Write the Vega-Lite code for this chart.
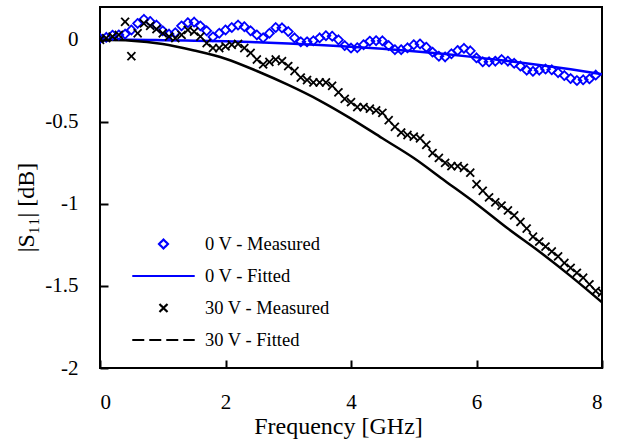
{
  "$schema": "https://vega.github.io/schema/vega-lite/v6.json",
  "width": 502,
  "height": 361,
  "autosize": "none",
  "padding": {"left": 100, "top": 7, "right": 23, "bottom": 76},
  "background": "white",
  "config": {
    "view": {"stroke": "black", "strokeWidth": 2},
    "font": "Liberation Serif",
    "axis": {
      "labelFont": "Liberation Serif", "labelFontSize": 21, "labelColor": "black",
      "titleFont": "Liberation Serif", "titleFontSize": 24, "titleFontWeight": "normal", "titleColor": "black"
    }
  },
  "data": {"values": [
    {"f":0.0,"v":0.008,"s":"0 V - Measured"},{"f":0.1,"v":0.015,"s":"0 V - Measured"},{"f":0.2,"v":0.028,"s":"0 V - Measured"},{"f":0.3,"v":0.03,"s":"0 V - Measured"},{"f":0.4,"v":0.035,"s":"0 V - Measured"},{"f":0.5,"v":0.06,"s":"0 V - Measured"},{"f":0.6,"v":0.1,"s":"0 V - Measured"},{"f":0.7,"v":0.125,"s":"0 V - Measured"},{"f":0.8,"v":0.112,"s":"0 V - Measured"},{"f":0.9,"v":0.09,"s":"0 V - Measured"},
    {"f":1.0,"v":0.055,"s":"0 V - Measured"},{"f":1.1,"v":0.035,"s":"0 V - Measured"},{"f":1.2,"v":0.043,"s":"0 V - Measured"},{"f":1.3,"v":0.085,"s":"0 V - Measured"},{"f":1.4,"v":0.104,"s":"0 V - Measured"},{"f":1.5,"v":0.108,"s":"0 V - Measured"},{"f":1.6,"v":0.085,"s":"0 V - Measured"},{"f":1.7,"v":0.055,"s":"0 V - Measured"},{"f":1.8,"v":0.018,"s":"0 V - Measured"},{"f":1.9,"v":0.04,"s":"0 V - Measured"},
    {"f":2.0,"v":0.06,"s":"0 V - Measured"},{"f":2.1,"v":0.075,"s":"0 V - Measured"},{"f":2.2,"v":0.09,"s":"0 V - Measured"},{"f":2.3,"v":0.08,"s":"0 V - Measured"},{"f":2.4,"v":0.055,"s":"0 V - Measured"},{"f":2.5,"v":0.03,"s":"0 V - Measured"},{"f":2.6,"v":0.012,"s":"0 V - Measured"},{"f":2.7,"v":0.04,"s":"0 V - Measured"},{"f":2.8,"v":0.075,"s":"0 V - Measured"},{"f":2.9,"v":0.073,"s":"0 V - Measured"},
    {"f":3.0,"v":0.05,"s":"0 V - Measured"},{"f":3.1,"v":0.012,"s":"0 V - Measured"},{"f":3.2,"v":-0.012,"s":"0 V - Measured"},{"f":3.3,"v":-0.012,"s":"0 V - Measured"},{"f":3.4,"v":-0.006,"s":"0 V - Measured"},{"f":3.5,"v":0.012,"s":"0 V - Measured"},{"f":3.6,"v":0.025,"s":"0 V - Measured"},{"f":3.7,"v":0.022,"s":"0 V - Measured"},{"f":3.8,"v":0.0,"s":"0 V - Measured"},{"f":3.9,"v":-0.035,"s":"0 V - Measured"},
    {"f":4.0,"v":-0.05,"s":"0 V - Measured"},{"f":4.1,"v":-0.048,"s":"0 V - Measured"},{"f":4.2,"v":-0.03,"s":"0 V - Measured"},{"f":4.3,"v":-0.008,"s":"0 V - Measured"},{"f":4.4,"v":-0.005,"s":"0 V - Measured"},{"f":4.5,"v":-0.006,"s":"0 V - Measured"},{"f":4.6,"v":-0.035,"s":"0 V - Measured"},{"f":4.7,"v":-0.06,"s":"0 V - Measured"},{"f":4.8,"v":-0.06,"s":"0 V - Measured"},{"f":4.9,"v":-0.049,"s":"0 V - Measured"},
    {"f":5.0,"v":-0.03,"s":"0 V - Measured"},{"f":5.1,"v":-0.025,"s":"0 V - Measured"},{"f":5.2,"v":-0.045,"s":"0 V - Measured"},{"f":5.3,"v":-0.075,"s":"0 V - Measured"},{"f":5.4,"v":-0.1,"s":"0 V - Measured"},{"f":5.5,"v":-0.104,"s":"0 V - Measured"},{"f":5.6,"v":-0.085,"s":"0 V - Measured"},{"f":5.7,"v":-0.065,"s":"0 V - Measured"},{"f":5.8,"v":-0.052,"s":"0 V - Measured"},{"f":5.9,"v":-0.067,"s":"0 V - Measured"},
    {"f":6.0,"v":-0.11,"s":"0 V - Measured"},{"f":6.1,"v":-0.134,"s":"0 V - Measured"},{"f":6.2,"v":-0.134,"s":"0 V - Measured"},{"f":6.3,"v":-0.13,"s":"0 V - Measured"},{"f":6.4,"v":-0.12,"s":"0 V - Measured"},{"f":6.5,"v":-0.13,"s":"0 V - Measured"},{"f":6.6,"v":-0.143,"s":"0 V - Measured"},{"f":6.7,"v":-0.16,"s":"0 V - Measured"},{"f":6.8,"v":-0.185,"s":"0 V - Measured"},{"f":6.9,"v":-0.192,"s":"0 V - Measured"},
    {"f":7.0,"v":-0.185,"s":"0 V - Measured"},{"f":7.1,"v":-0.178,"s":"0 V - Measured"},{"f":7.2,"v":-0.183,"s":"0 V - Measured"},{"f":7.3,"v":-0.2,"s":"0 V - Measured"},{"f":7.4,"v":-0.218,"s":"0 V - Measured"},{"f":7.5,"v":-0.236,"s":"0 V - Measured"},{"f":7.6,"v":-0.248,"s":"0 V - Measured"},{"f":7.7,"v":-0.244,"s":"0 V - Measured"},{"f":7.8,"v":-0.238,"s":"0 V - Measured"},{"f":7.9,"v":-0.215,"s":"0 V - Measured"},

    {"f":0.0,"v":0.0,"s":"0 V - Fitted"},{"f":0.5,"v":0.0,"s":"0 V - Fitted"},{"f":1.0,"v":-0.002,"s":"0 V - Fitted"},{"f":1.5,"v":-0.005,"s":"0 V - Fitted"},{"f":2.0,"v":-0.009,"s":"0 V - Fitted"},{"f":2.5,"v":-0.015,"s":"0 V - Fitted"},{"f":3.0,"v":-0.022,"s":"0 V - Fitted"},{"f":3.5,"v":-0.031,"s":"0 V - Fitted"},{"f":4.0,"v":-0.042,"s":"0 V - Fitted"},{"f":4.5,"v":-0.055,"s":"0 V - Fitted"},{"f":5.0,"v":-0.07,"s":"0 V - Fitted"},{"f":5.5,"v":-0.087,"s":"0 V - Fitted"},{"f":6.0,"v":-0.107,"s":"0 V - Fitted"},{"f":6.5,"v":-0.129,"s":"0 V - Fitted"},{"f":7.0,"v":-0.153,"s":"0 V - Fitted"},{"f":7.5,"v":-0.18,"s":"0 V - Fitted"},{"f":8.0,"v":-0.21,"s":"0 V - Fitted"},

    {"f":0.0,"v":0.0,"s":"30 V - Measured"},{"f":0.1,"v":0.01,"s":"30 V - Measured"},{"f":0.2,"v":0.02,"s":"30 V - Measured"},{"f":0.3,"v":0.03,"s":"30 V - Measured"},{"f":0.4,"v":0.11,"s":"30 V - Measured"},{"f":0.5,"v":-0.1,"s":"30 V - Measured"},{"f":0.6,"v":0.04,"s":"30 V - Measured"},{"f":0.7,"v":0.1,"s":"30 V - Measured"},{"f":0.8,"v":0.085,"s":"30 V - Measured"},{"f":0.9,"v":0.065,"s":"30 V - Measured"},
    {"f":1.0,"v":0.04,"s":"30 V - Measured"},{"f":1.1,"v":0.02,"s":"30 V - Measured"},{"f":1.2,"v":0.01,"s":"30 V - Measured"},{"f":1.3,"v":0.03,"s":"30 V - Measured"},{"f":1.4,"v":0.06,"s":"30 V - Measured"},{"f":1.5,"v":0.05,"s":"30 V - Measured"},{"f":1.6,"v":0.02,"s":"30 V - Measured"},{"f":1.7,"v":-0.02,"s":"30 V - Measured"},{"f":1.8,"v":-0.05,"s":"30 V - Measured"},{"f":1.9,"v":-0.05,"s":"30 V - Measured"},
    {"f":2.0,"v":-0.04,"s":"30 V - Measured"},{"f":2.1,"v":-0.03,"s":"30 V - Measured"},{"f":2.2,"v":-0.025,"s":"30 V - Measured"},{"f":2.3,"v":-0.05,"s":"30 V - Measured"},{"f":2.4,"v":-0.08,"s":"30 V - Measured"},{"f":2.5,"v":-0.12,"s":"30 V - Measured"},{"f":2.6,"v":-0.15,"s":"30 V - Measured"},{"f":2.7,"v":-0.135,"s":"30 V - Measured"},{"f":2.8,"v":-0.12,"s":"30 V - Measured"},{"f":2.9,"v":-0.13,"s":"30 V - Measured"},
    {"f":3.0,"v":-0.16,"s":"30 V - Measured"},{"f":3.1,"v":-0.19,"s":"30 V - Measured"},{"f":3.2,"v":-0.23,"s":"30 V - Measured"},{"f":3.3,"v":-0.245,"s":"30 V - Measured"},{"f":3.4,"v":-0.26,"s":"30 V - Measured"},{"f":3.5,"v":-0.26,"s":"30 V - Measured"},{"f":3.6,"v":-0.26,"s":"30 V - Measured"},{"f":3.7,"v":-0.28,"s":"30 V - Measured"},{"f":3.8,"v":-0.32,"s":"30 V - Measured"},{"f":3.9,"v":-0.36,"s":"30 V - Measured"},
    {"f":4.0,"v":-0.38,"s":"30 V - Measured"},{"f":4.1,"v":-0.41,"s":"30 V - Measured"},{"f":4.2,"v":-0.41,"s":"30 V - Measured"},{"f":4.3,"v":-0.42,"s":"30 V - Measured"},{"f":4.4,"v":-0.43,"s":"30 V - Measured"},{"f":4.5,"v":-0.445,"s":"30 V - Measured"},{"f":4.6,"v":-0.49,"s":"30 V - Measured"},{"f":4.7,"v":-0.53,"s":"30 V - Measured"},{"f":4.8,"v":-0.565,"s":"30 V - Measured"},{"f":4.9,"v":-0.58,"s":"30 V - Measured"},
    {"f":5.0,"v":-0.59,"s":"30 V - Measured"},{"f":5.1,"v":-0.6,"s":"30 V - Measured"},{"f":5.2,"v":-0.64,"s":"30 V - Measured"},{"f":5.3,"v":-0.69,"s":"30 V - Measured"},{"f":5.4,"v":-0.72,"s":"30 V - Measured"},{"f":5.5,"v":-0.75,"s":"30 V - Measured"},{"f":5.6,"v":-0.77,"s":"30 V - Measured"},{"f":5.7,"v":-0.77,"s":"30 V - Measured"},{"f":5.8,"v":-0.78,"s":"30 V - Measured"},{"f":5.9,"v":-0.81,"s":"30 V - Measured"},
    {"f":6.0,"v":-0.88,"s":"30 V - Measured"},{"f":6.1,"v":-0.92,"s":"30 V - Measured"},{"f":6.2,"v":-0.96,"s":"30 V - Measured"},{"f":6.3,"v":-0.99,"s":"30 V - Measured"},{"f":6.4,"v":-1.01,"s":"30 V - Measured"},{"f":6.5,"v":-1.04,"s":"30 V - Measured"},{"f":6.6,"v":-1.07,"s":"30 V - Measured"},{"f":6.7,"v":-1.11,"s":"30 V - Measured"},{"f":6.8,"v":-1.15,"s":"30 V - Measured"},{"f":6.9,"v":-1.2,"s":"30 V - Measured"},
    {"f":7.0,"v":-1.23,"s":"30 V - Measured"},{"f":7.1,"v":-1.26,"s":"30 V - Measured"},{"f":7.2,"v":-1.29,"s":"30 V - Measured"},{"f":7.3,"v":-1.32,"s":"30 V - Measured"},{"f":7.4,"v":-1.36,"s":"30 V - Measured"},{"f":7.5,"v":-1.39,"s":"30 V - Measured"},{"f":7.6,"v":-1.42,"s":"30 V - Measured"},{"f":7.7,"v":-1.45,"s":"30 V - Measured"},{"f":7.8,"v":-1.49,"s":"30 V - Measured"},{"f":7.9,"v":-1.53,"s":"30 V - Measured"},{"f":8.0,"v":-1.54,"s":"30 V - Measured"},

    {"f":0.0,"v":0.0,"s":"30 V - Fitted"},{"f":0.5,"v":-0.005,"s":"30 V - Fitted"},{"f":1.0,"v":-0.025,"s":"30 V - Fitted"},{"f":1.5,"v":-0.065,"s":"30 V - Fitted"},{"f":2.0,"v":-0.115,"s":"30 V - Fitted"},{"f":2.5,"v":-0.19,"s":"30 V - Fitted"},{"f":3.0,"v":-0.275,"s":"30 V - Fitted"},{"f":3.5,"v":-0.37,"s":"30 V - Fitted"},{"f":4.0,"v":-0.48,"s":"30 V - Fitted"},{"f":4.5,"v":-0.6,"s":"30 V - Fitted"},{"f":5.0,"v":-0.72,"s":"30 V - Fitted"},{"f":5.5,"v":-0.86,"s":"30 V - Fitted"},{"f":6.0,"v":-1.0,"s":"30 V - Fitted"},{"f":6.5,"v":-1.15,"s":"30 V - Fitted"},{"f":7.0,"v":-1.29,"s":"30 V - Fitted"},{"f":7.5,"v":-1.44,"s":"30 V - Fitted"},{"f":8.0,"v":-1.6,"s":"30 V - Fitted"}
  ]},
  "encoding": {
    "x": {"field": "f", "type": "quantitative", "scale": {"domain": [0, 8], "nice": false},
      "axis": {"values": [0, 2, 4, 6, 8], "labelExpr": "'' + datum.value", "title": "Frequency [GHz]",
        "domain": false, "grid": false, "ticks": true, "tickSize": 8, "offset": -8, "tickColor": "black", "tickWidth": 2, "zindex": 2,
        "labelPadding": 23, "titlePadding": 2, "titleX": 238}},
    "y": {"field": "v", "type": "quantitative", "scale": {"domain": [-2, 0.2], "nice": false, "zero": false},
      "axis": {"values": [0, -0.5, -1, -1.5, -2], "labelExpr": "'' + datum.value", "title": "|S₁₁| [dB]",
        "domain": false, "grid": false, "ticks": true, "tickSize": -8, "tickColor": "black", "tickWidth": 2, "zindex": 2,
        "labelPadding": 30, "titlePadding": 6, "titleY": 200}}
  },
  "layer": [
    {
      "transform": [{"filter": "indexof(datum.s, 'Fitted') >= 0"}],
      "mark": {"type": "line", "strokeWidth": 2.5, "interpolate": "monotone", "clip": true},
      "encoding": {
        "color": {"field": "s", "type": "nominal"},
        "detail": {"field": "s"}
      }
    },
    {
      "transform": [{"filter": "indexof(datum.s, 'Measured') >= 0"}],
      "mark": {"type": "point", "filled": false, "strokeWidth": 1.8, "opacity": 1, "clip": true},
      "encoding": {
        "color": {"field": "s", "type": "nominal",
          "scale": {"domain": ["0 V - Measured", "0 V - Fitted", "30 V - Measured", "30 V - Fitted"], "range": ["#0000ff", "#0000ff", "#000000", "#000000"]},
          "legend": {"orient": "none", "legendX": 31, "legendY": 227, "title": null, "padding": 0,
            "labelFont": "Liberation Serif", "labelFontSize": 18.5, "labelColor": "black", "labelOffset": 9,
            "clipHeight": 20, "rowPadding": 12, "symbolStrokeWidth": 2.2, "symbolOpacity": 1}},
        "shape": {"field": "s", "type": "nominal",
          "scale": {"domain": ["0 V - Measured", "0 V - Fitted", "30 V - Measured", "30 V - Fitted"], "range": ["diamond", "M-1,0H1", "M-1,-1L1,1M-1,1L1,-1", "M-1,0H1"]}},
        "size": {"field": "s", "type": "ordinal",
          "scale": {"type": "ordinal", "domain": ["0 V - Measured", "0 V - Fitted", "30 V - Measured", "30 V - Fitted"], "range": [80, 3900, 64, 3900]}},
        "strokeDash": {"field": "s", "type": "nominal",
          "scale": {"domain": ["0 V - Measured", "0 V - Fitted", "30 V - Measured", "30 V - Fitted"], "range": [[1, 0], [1, 0], [1, 0], [12, 5]]}}
      }
    }
  ]
}
